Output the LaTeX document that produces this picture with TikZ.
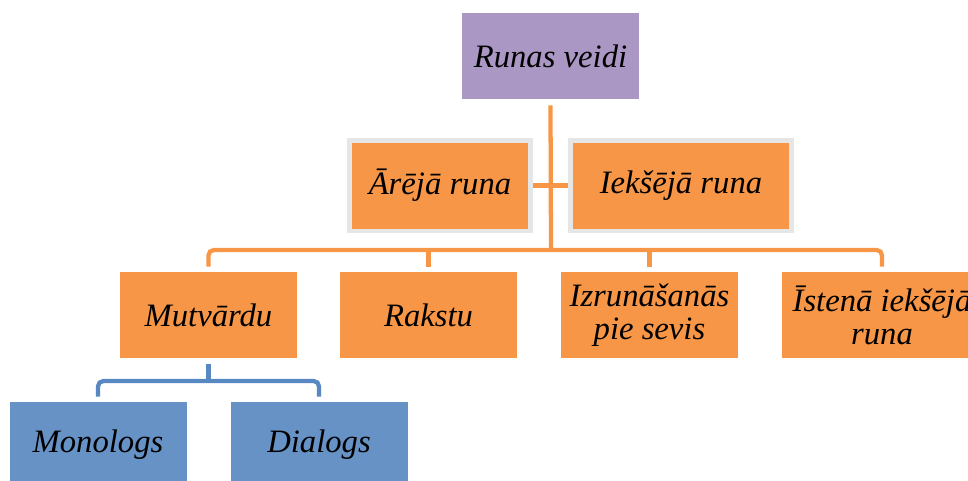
\documentclass[tikz,border=0pt]{standalone}
\usepackage{fontspec}
\setmainfont{Liberation Serif}

\definecolor{runorange}{RGB}{247,150,70}
\definecolor{runpurple}{RGB}{170,151,196}
\definecolor{runblue}{RGB}{102,146,198}
\definecolor{runblueline}{RGB}{88,136,194}
\definecolor{rungray}{RGB}{230,230,230}

\tikzset{
  box/.style={inner sep=0pt, minimum width=132.75pt, minimum height=64.5pt,
    align=center, font=\fontsize{24.5}{24.75}\selectfont\itshape},
  orangebox/.style={box, fill=runorange},
  sidebox/.style={box, fill=runorange, draw=rungray, line width=3.4pt, minimum height=67.9pt},
  bluebox/.style={box, fill=runblue},
  orangeline/.style={draw=runorange, line width=3.2pt},
  blueline/.style={draw=runblueline, line width=3.2pt}
}

\begin{document}
\begin{tikzpicture}[x=0.75pt, y=-0.75pt]

\path[use as bounding box, clip] (0,0) rectangle (968,480);

\node [box, fill=runpurple] (veidi) at (550.5,56) {Runas veidi};

\node [sidebox, minimum width=136.1pt] (arej) at (440,185.5) {Ārējā runa};
\node [sidebox, minimum width=166.1pt] (ieks) at (681,185.5) {Iekšējā runa};

\node [orangebox] (mutv) at (208.5,315) {Mutvārdu};
\node [orangebox] (rakstu) at (428.5,315) {Rakstu};
\node [orangebox] (izrun) at (649.5,315) {Izrunāšanās\\pie sevis};
\node [orangebox, minimum width=150pt] (isten) at (882,315) {Īstenā iekšējā\\runa};

\node [bluebox] (mono) at (98,445) {Monologs};
\node [bluebox] (dial) at (319,445) {Dialogs};

% orange tree
\coordinate (bus) at (551,250);
\draw[orangeline] ([yshift=-4.5pt]veidi.south) -- (bus);
\draw[orangeline] (arej.east) -- (ieks.west);
\draw[orangeline, rounded corners=4pt] ([yshift=3.75pt]mutv.north) |- (bus) -| ([yshift=3.75pt]isten.north);
\draw[orangeline] ([yshift=3.75pt]rakstu.north) -- (rakstu.north |- bus);
\draw[orangeline] ([yshift=3.75pt]izrun.north) -- (izrun.north |- bus);

% blue tree
\coordinate (bluebus) at (208.5,381);
\draw[blueline] ([yshift=-4.5pt]mutv.south) -- (bluebus);
\draw[blueline, rounded corners=4pt] ([yshift=3.75pt]mono.north) |- (bluebus) -| ([yshift=3.75pt]dial.north);

\end{tikzpicture}
\end{document}
